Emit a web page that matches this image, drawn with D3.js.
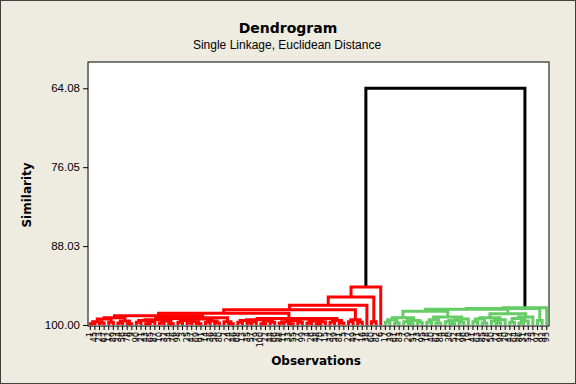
<!DOCTYPE html>
<html>
<head>
<meta charset="utf-8">
<script src="https://cdn.jsdelivr.net/npm/d3@7"></script>
<style>
  body { margin: 0; background: #eeebe0; }
  svg { display: block; }
  text { font-family: Tahoma, "DejaVu Sans", sans-serif; fill: #000; }
  .title { font-size: 14px; font-weight: bold; }
  .subtitle { font-family: "Liberation Sans", Arial, sans-serif; font-size: 12px; }
  .axis-title { font-size: 12px; font-weight: bold; }
  .axis--y text { font-family: "Liberation Sans", Arial, sans-serif; font-size: 11.5px; }
  .axis--x text { font-size: 8px; }
  .axis path.domain { display: none; }
</style>
</head>
<body>
<svg id="chart" width="576" height="384"></svg>
<script>
// observation numbers in leaf order (left to right)
const leafLabels = [
  1, 45, 23, 67, 12, 89, 34, 56, 78, 9, 90, 21, 43, 65, 87, 10, 32, 54, 76, 98,
  3, 25, 47, 69, 91, 14, 36, 58, 80, 2, 24, 46, 68, 13, 35, 57, 79, 100, 22, 44,
  66, 88, 11, 33, 55, 77, 99, 4, 26, 48, 70, 15, 37, 59, 81, 5, 27, 49, 71, 16,
  38, 60, 82, 6,
  17, 39, 61, 83, 7, 29, 51, 73, 95, 18, 40, 62, 84, 8, 30, 52, 74, 96, 19, 41,
  63, 85, 28, 50, 72, 94, 20, 42, 64, 86, 31, 53, 75, 97, 92, 93
];

// similarity at which neighbouring leaves join (red cluster, 64 leaves)
const redJoins = [
  99.8, 99.5, 99.7, 99.1, 99.6, 98.9, 99.7, 99.4, 99.8, 98.6,
  99.6, 99.3, 99.8, 99.5, 99.2, 99.7, 99.4, 99.8, 99.0, 99.6,
  99.3, 99.7, 99.5, 99.8, 99.1, 99.6, 99.4, 99.7, 98.9, 99.5,
  99.8, 98.2, 99.6, 99.3, 99.7, 99.5, 99.2, 99.8, 99.4, 99.6,
  99.0, 99.7, 99.5, 99.8, 99.3, 99.6, 99.1, 99.7, 99.4, 99.8,
  99.5, 99.0, 99.6, 99.3, 99.7, 97.7, 99.5, 99.2, 99.6, 97.0,
  95.75, 99.5, 94.23
];
const topJoin = 64.08;
// green cluster, 36 leaves
const greenJoins = [
  99.6, 99.2, 99.7, 98.9, 99.5, 99.8, 99.3, 99.6, 97.9, 99.6,
  99.2, 99.7, 98.8, 99.5, 99.8, 99.3, 99.6, 99.1, 97.6, 99.5,
  99.1, 99.7, 98.9, 99.4, 99.7, 99.2, 98.3, 99.6, 99.0, 99.7,
  99.4, 98.8, 97.5, 99.3, 97.4
];
const yTicks = [100.00, 88.03, 76.05, 64.08];

const joinLevels = [...redJoins, topJoin, ...greenJoins];
const nRed = redJoins.length + 1;

const PLOT = { left: 88, right: 549, top: 62, bottom: 326 };
const COLORS = { red: '#ff0000', green: '#66cc66', root: '#000000' };

const $svg = d3.select('#chart');

$svg.append('rect')
  .attr('x', 0.5).attr('y', 0.5).attr('width', 575).attr('height', 383)
  .attr('fill', '#eeebe0').attr('stroke', '#404040');

$svg.append('rect')
  .attr('x', PLOT.left).attr('y', PLOT.top)
  .attr('width', PLOT.right - PLOT.left).attr('height', PLOT.bottom - PLOT.top)
  .attr('fill', '#fff').attr('stroke', '#000');

const scaleX = d3.scaleBand()
  .domain(d3.range(leafLabels.length))
  .range([PLOT.left, PLOT.right]);

const scaleY = d3.scaleLinear()
  .domain([100, 60.09])
  .range([PLOT.bottom - 1, PLOT.top]);

// build the tree: split each leaf run at its weakest join
function build(lo, hi) {
  if (lo === hi) return { x: scaleX(lo) + scaleX.bandwidth() / 2, sim: 100, leaf: lo };
  let k = lo;
  for (let i = lo; i < hi; i++) if (joinLevels[i] < joinLevels[k]) k = i;
  const left = build(lo, k);
  const right = build(k + 1, hi);
  return { x: (left.x + right.x) / 2, sim: joinLevels[k], left, right, leaf: k };
}
const root = build(0, leafLabels.length - 1);

const links = [];
(function walk(node, isRoot) {
  if (!node.left) return;
  let color = COLORS.root;
  if (!isRoot) color = node.leaf < nRed ? COLORS.red : COLORS.green;
  links.push({ node, color });
  walk(node.left, false);
  walk(node.right, false);
})(root, true);

const $links = $svg.append('g').attr('class', 'links');
$links.selectAll('path')
  .data(links)
  .join('path')
  .attr('d', d => {
    const n = d.node;
    return `M${n.left.x},${scaleY(n.left.sim)}V${scaleY(n.sim)}H${n.right.x}V${scaleY(n.right.sim)}`;
  })
  .attr('fill', 'none')
  .attr('stroke', d => d.color)
  .attr('stroke-width', 3)
  .attr('stroke-linejoin', 'miter');

// AXES
const axisY = d3.axisLeft(scaleY)
  .tickValues(yTicks)
  .tickFormat(d3.format('.2f'))
  .tickSize(5)
  .tickPadding(3);

$svg.append('g')
  .attr('class', 'axis axis--y')
  .attr('transform', `translate(${PLOT.left},0)`)
  .call(axisY);

const axisX = d3.axisBottom(scaleX)
  .tickFormat(i => leafLabels[i])
  .tickSize(4)
  .tickPadding(2);

const $gx = $svg.append('g')
  .attr('class', 'axis axis--x')
  .attr('transform', `translate(0,${PLOT.bottom})`)
  .call(axisX);

$gx.selectAll('text')
  .attr('transform', 'rotate(-90)')
  .attr('x', -6).attr('y', 0).attr('dy', '0.32em')
  .attr('text-anchor', 'end');

// TITLES
$svg.append('text').attr('class', 'title')
  .attr('x', 288).attr('y', 33).attr('text-anchor', 'middle')
  .text('Dendrogram');

$svg.append('text').attr('class', 'subtitle')
  .attr('x', 287).attr('y', 49).attr('text-anchor', 'middle')
  .text('Single Linkage, Euclidean Distance');

$svg.append('text').attr('class', 'axis-title')
  .attr('transform', 'translate(31,195) rotate(-90)')
  .attr('text-anchor', 'middle')
  .text('Similarity');

$svg.append('text').attr('class', 'axis-title')
  .attr('x', 316).attr('y', 365).attr('text-anchor', 'middle')
  .text('Observations');
</script>
</body>
</html>
